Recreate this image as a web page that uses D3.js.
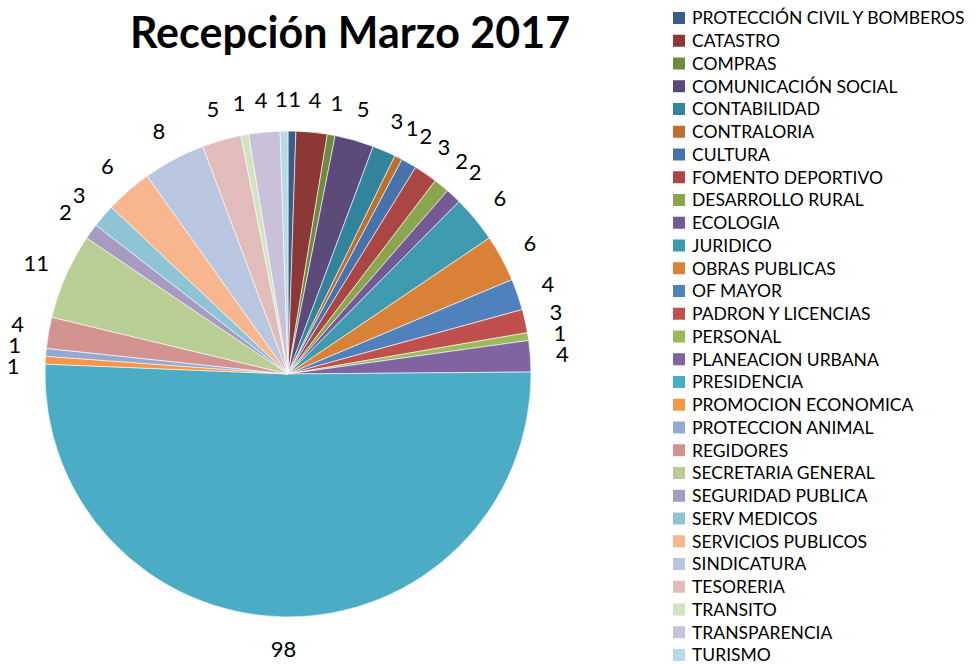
<!DOCTYPE html>
<html>
<head>
<meta charset="utf-8">
<script src="https://cdn.jsdelivr.net/npm/d3@7"></script>
<style>
  body { margin: 0; background: #fff; }
  text { font-family: Lato, "Open Sans", sans-serif; fill: #000; }
</style>
</head>
<body>
<svg id="drawing_region"></svg>
<script>
const categories = [
  'PROTECCIÓN CIVIL Y BOMBEROS', 'CATASTRO', 'COMPRAS', 'COMUNICACIÓN SOCIAL',
  'CONTABILIDAD', 'CONTRALORIA', 'CULTURA', 'FOMENTO DEPORTIVO', 'DESARROLLO RURAL',
  'ECOLOGIA', 'JURIDICO', 'OBRAS PUBLICAS', 'OF MAYOR', 'PADRON Y LICENCIAS',
  'PERSONAL', 'PLANEACION URBANA', 'PRESIDENCIA', 'PROMOCION ECONOMICA',
  'PROTECCION ANIMAL', 'REGIDORES', 'SECRETARIA GENERAL', 'SEGURIDAD PUBLICA',
  'SERV MEDICOS', 'SERVICIOS PUBLICOS', 'SINDICATURA', 'TESORERIA', 'TRANSITO',
  'TRANSPARENCIA', 'TURISMO'
];

const values = [1, 4, 1, 5, 3, 1, 2, 3, 2, 2, 6, 6, 4, 3, 1, 4, 98, 1, 1, 4, 11, 2, 3, 6, 8, 5, 1, 4, 1];

const colors = [
  '#385d8a', '#8c3836', '#71893f', '#5c4a7b', '#31849b', '#bd6f31',
  '#4674aa', '#aa4644', '#8ba54e', '#735a95', '#3f9ab0', '#da8138',
  '#4f81bd', '#c0504d', '#9bbb59', '#8064a2', '#4bacc6', '#f79646',
  '#95aad2', '#d39391', '#b9ce94', '#a89bc0', '#8fc3d6', '#f8b68f',
  '#b9c6e0', '#e2bbbb', '#d3e2c0', '#c9c1da', '#b8d9e6'
];

const title = 'Recepción Marzo 2017';

const data = categories.map((c, i) => ({ label: c, value: values[i], color: colors[i] }));

const config = {
  parent: '#drawing_region',
  width: 977,
  height: 664,
  cx: 288,
  cy: 374,
  radius: 243
};

const svg = d3.select(config.parent)
  .attr('width', config.width)
  .attr('height', config.height);

svg.append('text')
  .attr('x', 350)
  .attr('y', 48)
  .attr('text-anchor', 'middle')
  .style('font-size', '43px')
  .style('font-weight', 'bold')
  .text(title);

const pie = d3.pie()
  .sort(null)
  .value(d => d.value);

const arc = d3.arc()
  .innerRadius(0)
  .outerRadius(config.radius);

const chart = svg.append('g')
  .attr('transform', `translate(${config.cx}, ${config.cy})`);

const arcs = pie(data);

chart.selectAll('path')
  .data(arcs)
  .enter()
  .append('path')
  .attr('d', arc)
  .attr('fill', d => d.data.color)
  .attr('stroke', '#fff')
  .attr('stroke-width', 0.6);

// value labels outside the slices, nudged apart a little where they collide
const label_r = config.radius + 32;
const labels = arcs.map(d => ({
  a: (d.startAngle + d.endAngle) / 2,
  text: String(d.data.value),
  w: 12 * String(d.data.value).length
}));
const pos = l => [label_r * Math.sin(l.a), -label_r * Math.cos(l.a)];
const lh = 21;

for (let k = 0; k < 400; k++) {
  let moved = false;
  for (let i = 0; i < labels.length; i++) {
    for (let j = i + 1; j < labels.length; j++) {
      const p = labels[i], q = labels[j];
      const [px, py] = pos(p);
      const [qx, qy] = pos(q);
      if (Math.abs(px - qx) < (p.w + q.w) / 2 + 1 && Math.abs(py - qy) < lh) {
        // first and last labels meet across the top
        const dir = (j - i) > labels.length / 2 ? -1 : 1;
        p.a -= 0.002 * dir;
        q.a += 0.002 * dir;
        moved = true;
      }
    }
  }
  if (!moved) break;
}

chart.selectAll('text.value')
  .data(labels)
  .enter()
  .append('text')
  .attr('class', 'value')
  .attr('transform', d => `translate(${pos(d)})`)
  .attr('text-anchor', 'middle')
  .attr('dy', '0.35em')
  .style('font-size', '22px')
  .text(d => d.text);

// legend
const legend = svg.append('g')
  .attr('transform', 'translate(673, 18)');

const row = 22.75;

const items = legend.selectAll('g')
  .data(data)
  .enter()
  .append('g')
  .attr('transform', (d, i) => `translate(0, ${i * row})`);

items.append('rect')
  .attr('x', 0)
  .attr('y', -6)
  .attr('width', 12)
  .attr('height', 12)
  .attr('fill', d => d.color);

items.append('text')
  .attr('x', 19)
  .attr('y', 0)
  .attr('dy', '0.36em')
  .style('font-size', '17.5px')
  .text(d => d.label);
</script>
</body>
</html>
